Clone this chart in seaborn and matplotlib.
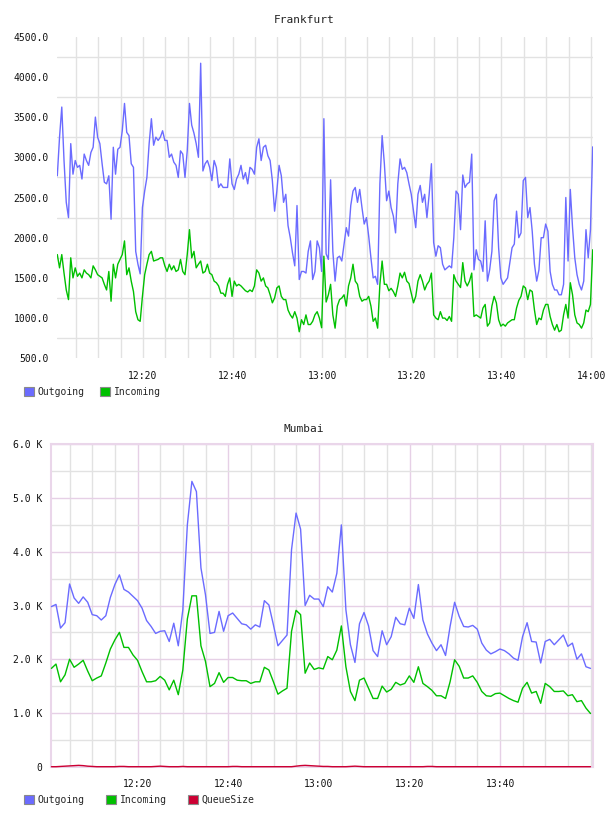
import pandas as pd
import matplotlib
matplotlib.use('Agg')
import matplotlib.pyplot as plt
import matplotlib.dates as mdates
from matplotlib.patches import Patch
from matplotlib.ticker import FixedLocator, FuncFormatter
import seaborn as sns

# Frankfurt: one sample every 30 s, starting 12:00:52
fra_start = '2024-01-01 12:00:52'
fra_outgoing = [
    2770, 3250, 3625, 2960, 2440, 2250, 3170, 2790, 2960, 2875,
    2900, 2730, 3040, 2960, 2900, 3060, 3125, 3500, 3250, 3170,
    2920, 2690, 2670, 2770, 2230, 3125, 2790, 3100, 3125, 3330,
    3670, 3310, 3270, 2920, 2875, 1830, 1670, 1550, 2375, 2580,
    2750, 3170, 3480, 3150, 3250, 3210, 3250, 3330, 3210, 3210,
    3000, 3040, 2940, 2900, 2750, 3080, 3040, 2750, 3080, 3670,
    3400, 3300, 3170, 3000, 4170, 2830, 2920, 2960, 2875, 2710,
    2960, 2875, 2625, 2670, 2625, 2625, 2625, 2980, 2670, 2600,
    2730, 2790, 2900, 2730, 2810, 2670, 2875, 2850, 2790, 3125,
    3230, 2960, 3125, 3150, 3020, 2960, 2710, 2330, 2580, 2900,
    2770, 2440, 2540, 2150, 2000, 1810, 1650, 2400, 1480, 1580,
    1580, 1560, 1830, 1960, 1480, 1580, 1960, 1875, 1580, 3480,
    1800, 1730, 2720, 1830, 1460, 1750, 1770, 1710, 1920, 2125,
    2020, 2400, 2580, 2625, 2440, 2600, 2375, 2170, 2250, 2020,
    1750, 1500, 1520, 1420, 2670, 3270, 2920, 2460, 2580, 2375,
    2270, 2060, 2670, 2980, 2850, 2875, 2810, 2670, 2540, 2330,
    2125, 2540, 2650, 2440, 2540, 2250, 2540, 2920, 1940, 1770,
    1900, 1875, 1670, 1600, 1625, 1650, 1625, 2000, 2580, 2540,
    2100, 2780, 2625, 2670, 2690, 3040, 1600, 1850, 1730, 1710,
    1580, 2210, 1460, 1600, 1830, 2460, 2540, 1875, 1500, 1420,
    1460, 1500, 1690, 1875, 1920, 2330, 2000, 2060, 2710, 2750,
    2250, 2375, 2080, 1670, 1460, 1600, 2000, 2000, 2170, 2080,
    1580, 1420, 1350, 1350, 1290, 1290, 1420, 2500, 1710, 2600,
    2125, 1750, 1540, 1420, 1350, 1460, 2100, 1750, 2100, 3130,
]
fra_incoming = [
    1790, 1625, 1790, 1560, 1350, 1230, 1750, 1500, 1625, 1520,
    1560, 1500, 1600, 1560, 1540, 1500, 1650, 1600, 1540, 1520,
    1500, 1420, 1350, 1580, 1210, 1670, 1500, 1670, 1730, 1790,
    1960, 1540, 1625, 1460, 1330, 1080, 980, 960, 1270, 1540,
    1670, 1790, 1830, 1710, 1720, 1730, 1750, 1750, 1650, 1580,
    1670, 1600, 1650, 1580, 1600, 1730, 1580, 1540, 1790, 2100,
    1750, 1830, 1625, 1670, 1710, 1560, 1580, 1670, 1560, 1540,
    1460, 1440, 1400, 1310, 1310, 1270, 1420, 1500, 1270, 1460,
    1400, 1420, 1400, 1370, 1340, 1325, 1350, 1330, 1400, 1600,
    1560, 1460, 1500, 1400, 1375, 1290, 1190, 1250, 1375, 1400,
    1270, 1230, 1230, 1100, 1040, 1000, 1080, 1000, 830, 980,
    920, 1040, 920, 920, 960, 1040, 1080, 1000, 880, 1770,
    1200, 1290, 1420, 1040, 875, 1150, 1230, 1250, 1290, 1150,
    1400, 1500, 1670, 1460, 1420, 1270, 1210, 1230, 1230, 1270,
    1150, 960, 1000, 875, 1420, 1710, 1420, 1420, 1340, 1370,
    1330, 1270, 1400, 1560, 1500, 1570, 1460, 1430, 1310, 1190,
    1270, 1460, 1540, 1460, 1350, 1420, 1460, 1560, 1040, 1000,
    980, 1080, 1000, 1000, 970, 1020, 960, 1540, 1460, 1420,
    1380, 1690, 1460, 1400, 1460, 1560, 1020, 1040, 1020, 1000,
    1125, 1170, 900, 940, 1150, 1270, 1190, 980, 900, 925,
    900, 940, 960, 980, 980, 1125, 1220, 1270, 1400, 1375,
    1230, 1350, 1330, 1100, 920, 1000, 980, 1100, 1170, 1170,
    1020, 920, 850, 920, 830, 850, 1040, 1170, 1000, 1440,
    1290, 1040, 940, 920, 875, 940, 1100, 1080, 1170, 1850,
]

# Mumbai: one sample per minute, starting 12:00:57
mum_start = '2024-01-01 12:00:57'
mum_outgoing = [
    2980, 3020, 2580, 2680, 3400, 3140, 3040, 3160, 3060, 2830,
    2810, 2730, 2810, 3150, 3390, 3570, 3300, 3250, 3170, 3090,
    2950, 2720, 2610, 2480, 2520, 2530, 2330, 2670, 2250, 2920,
    4500, 5310, 5120, 3700, 3200, 2480, 2500, 2890, 2520, 2810,
    2860, 2760, 2660, 2640, 2560, 2640, 2600, 3090, 3010, 2640,
    2250, 2350, 2450, 4040, 4720, 4420, 3000, 3190, 3120, 3120,
    2980, 3350, 3250, 3600, 4500, 2920, 2270, 1940, 2660, 2870,
    2620, 2160, 2050, 2530, 2270, 2420, 2780, 2660, 2640, 2950,
    2760, 3390, 2730, 2470, 2300, 2160, 2270, 2070, 2610, 3060,
    2800, 2610, 2600, 2630, 2560, 2300, 2170, 2100, 2140, 2190,
    2160, 2100, 2020, 1980, 2420, 2680, 2330, 2320, 1930, 2330,
    2370, 2270, 2360, 2450, 2240, 2300, 2000, 2100, 1860, 1830,
]
mum_incoming = [
    1830, 1910, 1580, 1710, 2000, 1850, 1910, 1980, 1780, 1600,
    1650, 1690, 1930, 2190, 2360, 2500, 2220, 2220, 2080, 1980,
    1770, 1580, 1580, 1600, 1680, 1610, 1430, 1610, 1340, 1800,
    2750, 3180, 3180, 2250, 1960, 1490, 1550, 1750, 1570, 1660,
    1660, 1610, 1600, 1600, 1550, 1580, 1580, 1850, 1800, 1580,
    1350, 1410, 1460, 2520, 2910, 2830, 1740, 1930, 1810, 1840,
    1820, 2050, 1990, 2170, 2620, 1860, 1400, 1230, 1610, 1650,
    1460, 1270, 1270, 1500, 1390, 1440, 1570, 1520, 1550, 1690,
    1570, 1860, 1550, 1490, 1420, 1320, 1320, 1270, 1580, 1990,
    1870, 1650, 1650, 1690, 1570, 1400, 1320, 1310, 1360, 1370,
    1320, 1270, 1230, 1200, 1460, 1570, 1370, 1400, 1180, 1550,
    1490, 1400, 1400, 1410, 1320, 1340, 1210, 1230, 1090, 990,
]
mum_queue = [
    0, 0, 5, 10, 15, 20, 25, 20, 10, 5,
    0, 0, 0, 0, 0, 5, 5, 0, 0, 0,
    0, 0, 0, 5, 10, 5, 0, 0, 0, 5,
    0, 0, 0, 0, 0, 0, 0, 0, 0, 0,
    5, 5, 0, 0, 0, 0, 0, 0, 0, 0,
    0, 0, 0, 0, 10, 20, 25, 20, 15, 10,
    5, 5, 0, 0, 0, 0, 5, 10, 5, 0,
    0, 0, 0, 0, 0, 0, 0, 0, 0, 0,
    0, 0, 0, 5, 5, 0, 0, 0, 0, 0,
    0, 0, 0, 0, 0, 0, 0, 0, 0, 0,
    0, 0, 0, 0, 0, 0, 0, 0, 0, 0,
    0, 0, 0, 0, 0, 0, 0, 0, 0, 0,
]

blue = '#6b6bff'
green = '#00c000'
red = '#cc0033'
grid_gray = '#e2e2e2'
grid_purple = '#e6d0e6'

fra = pd.DataFrame({
    'time': pd.date_range(fra_start, periods=len(fra_outgoing), freq='30s'),
    'Outgoing': fra_outgoing,
    'Incoming': fra_incoming,
}).melt(id_vars='time', var_name='series', value_name='value')

mum = pd.DataFrame({
    'time': pd.date_range(mum_start, periods=len(mum_outgoing), freq='min'),
    'Outgoing': mum_outgoing,
    'Incoming': mum_incoming,
    'QueueSize': mum_queue,
}).melt(id_vars='time', var_name='series', value_name='value')

sns.set_style('white')
plt.rcParams['font.family'] = ['DejaVu Sans Mono']
plt.rcParams['font.size'] = 7

fig = plt.figure(figsize=(6.08, 8.16), dpi=100)
W, H = 608, 816
ax1 = fig.add_axes([57.3 / W, 1 - 358.3 / H, 536 / W, 321.6 / H])
ax2 = fig.add_axes([50.7 / W, 1 - 766.7 / H, 542.6 / W, 322.4 / H])

# --- Frankfurt ---
sns.lineplot(data=fra, x='time', y='value', hue='series',
             palette={'Outgoing': blue, 'Incoming': green},
             linewidth=1.0, legend=False, ax=ax1)
ax1.set_xlim(pd.Timestamp('2024-01-01 12:00:52'), pd.Timestamp('2024-01-01 14:00:30'))
ax1.set_ylim(500, 4500)
ax1.yaxis.set_major_locator(FixedLocator(list(range(500, 4501, 500))))
ax1.yaxis.set_minor_locator(FixedLocator(list(range(750, 4300, 500))))
ax1.yaxis.set_major_formatter(FuncFormatter(lambda v, p: f'{v:.1f}'))
ax1.xaxis.set_major_locator(mdates.MinuteLocator(byminute=[0, 20, 40]))
ax1.xaxis.set_minor_locator(mdates.MinuteLocator(byminute=range(0, 60, 5)))
ax1.xaxis.set_major_formatter(mdates.DateFormatter('%H:%M'))
ax1.grid(False)
ax1.xaxis.grid(True, which='both', color=grid_gray, linewidth=1.0)
ax1.yaxis.grid(True, which='minor', color=grid_gray, linewidth=1.0)
for s in ax1.spines.values():
    s.set_visible(False)

# --- Mumbai ---
sns.lineplot(data=mum, x='time', y='value', hue='series',
             palette={'Outgoing': blue, 'Incoming': green, 'QueueSize': red},
             linewidth=1.0, legend=False, ax=ax2)
# keep the series above the frame so the zero line stays visible
for ln in ax2.get_lines():
    ln.set_zorder(3)
    ln.set_clip_on(False)
ax2.set_xlim(pd.Timestamp('2024-01-01 12:00:47'), pd.Timestamp('2024-01-01 14:00:34'))
ax2.set_ylim(0, 6000)
ax2.yaxis.set_major_locator(FixedLocator(list(range(0, 6001, 1000))))
ax2.yaxis.set_minor_locator(FixedLocator(list(range(500, 6000, 1000))))
ax2.yaxis.set_major_formatter(FuncFormatter(lambda v, p: '0' if v == 0 else f'{v / 1000:.1f} K'))
major_times = [pd.Timestamp(f'2024-01-01 {t}') for t in ['12:20', '12:40', '13:00', '13:20', '13:40']]
ax2.xaxis.set_major_locator(FixedLocator(mdates.date2num(major_times)))
ax2.xaxis.set_minor_locator(mdates.MinuteLocator(byminute=range(0, 60, 5)))
ax2.xaxis.set_major_formatter(mdates.DateFormatter('%H:%M'))
ax2.grid(False)
ax2.grid(True, which='minor', color=grid_gray, linewidth=1.0)
ax2.grid(True, which='major', color=grid_purple, linewidth=1.0)
for s in ax2.spines.values():
    s.set_visible(True)
    s.set_color('#ead6ea')
    s.set_linewidth(1.5)

for ax in (ax1, ax2):
    ax.set_xlabel('')
    ax.set_ylabel('')
    ax.set_axisbelow(True)
    ax.tick_params(axis='both', which='both', length=0, labelsize=7, colors='#111111')
    ax.tick_params(axis='x', pad=9)
    ax.tick_params(axis='y', pad=6)

fig.text(0.5, 1 - 20 / H, 'Frankfurt', ha='center', va='center', fontsize=8, color='#222222')
fig.text(0.5, 1 - 429 / H, 'Mumbai', ha='center', va='center', fontsize=8, color='#222222')

def add_legend(names, colors, y_px, spacing):
    handles = [Patch(facecolor=c, edgecolor='#8a8a8a', linewidth=0.8) for c in colors]
    fig.legend(handles, names, loc='center left', bbox_to_anchor=(24 / W, 1 - y_px / H),
               ncol=len(names), frameon=False, fontsize=7, handlelength=1.0,
               handleheight=1.0, handletextpad=0.4, columnspacing=spacing,
               borderaxespad=0, borderpad=0)

add_legend(['Outgoing', 'Incoming'], [blue, green], 392, 1.6)
add_legend(['Outgoing', 'Incoming', 'QueueSize'], [blue, green, red], 800, 2.2)

fig.savefig('out.png', dpi=100)
